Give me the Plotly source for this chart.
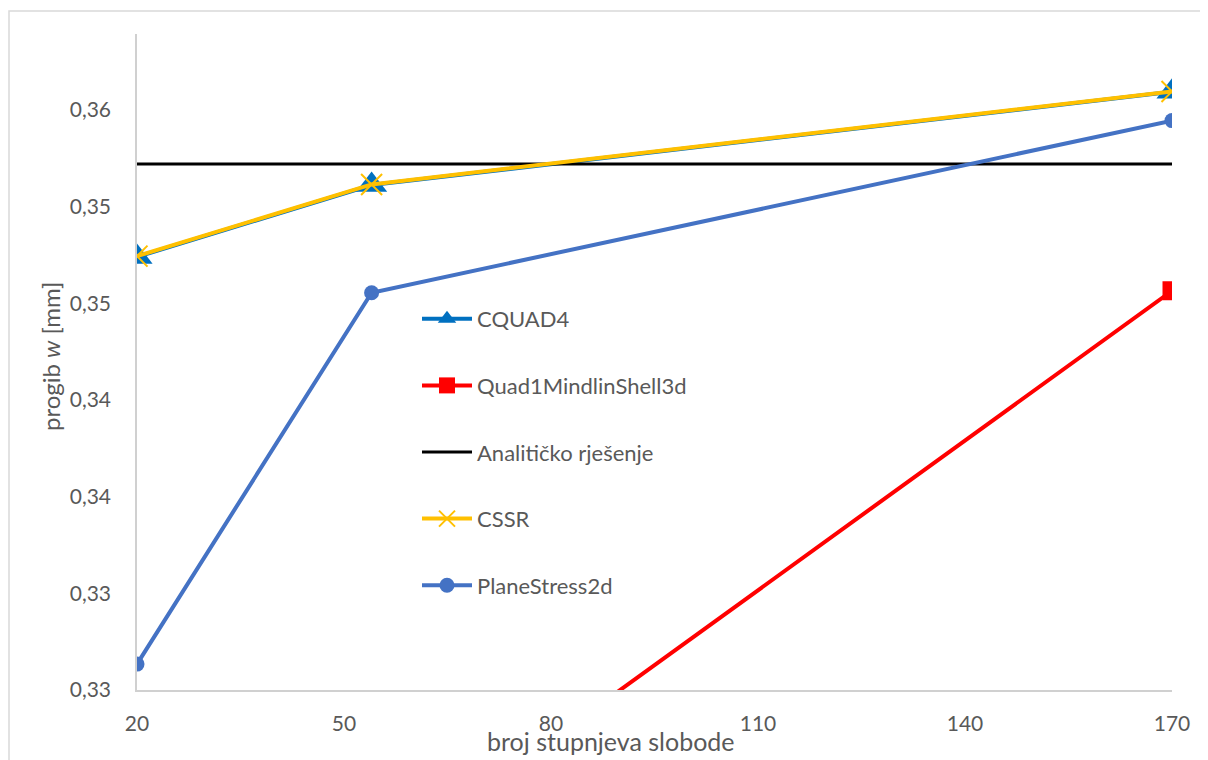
import plotly.graph_objects as go

# ---- data ----
dof = [20, 54, 170]
cquad4 = [0.35240, 0.35612, 0.36094]
quad1_mindlin = [0.3050, 0.3207, 0.35065]
analytic_x = [20, 170]
analytic = [0.35721, 0.35721]
cssr = [0.35244, 0.35615, 0.36096]
plane_stress = [0.33134, 0.35055, 0.35945]

y_tickvals = [0.330, 0.335, 0.340, 0.345, 0.350, 0.355, 0.360]
y_ticktext = ["0,33", "0,33", "0,34", "0,34", "0,35", "0,35", "0,36"]
x_tickvals = [20, 50, 80, 110, 140, 170]

FONT = "Lato"
TXT = "#595959"

fig = go.Figure()
fig.add_trace(go.Scatter(x=dof, y=cquad4, name="CQUAD4", mode="lines+markers",
                         line=dict(color="#0070C0", width=4),
                         marker=dict(symbol="triangle-up", size=27, color="#0070C0"),
                         legendgroup="a"))
fig.add_trace(go.Scatter(x=dof, y=quad1_mindlin, name="Quad1MindlinShell3d", mode="lines+markers",
                         line=dict(color="#FF0000", width=4),
                         marker=dict(symbol="square", size=19, color="#FF0000"),
                         legendgroup="b"))
fig.add_trace(go.Scatter(x=analytic_x, y=analytic, name="Analitičko rješenje", mode="lines",
                         line=dict(color="#000000", width=3),
                         legendgroup="c"))
fig.add_trace(go.Scatter(x=dof, y=cssr, name="CSSR", mode="lines+markers",
                         line=dict(color="#FFC000", width=4),
                         marker=dict(symbol="x-thin", size=21, color="#FFC000",
                                     line=dict(color="#FFC000", width=2)),
                         legendgroup="d"))
fig.add_trace(go.Scatter(x=dof, y=plane_stress, name="PlaneStress2d", mode="lines+markers",
                         line=dict(color="#4472C4", width=4),
                         marker=dict(symbol="circle", size=15, color="#4472C4"),
                         legendgroup="e"))

OFF = 8  # page body margin
W, H = 1200, 752
L, R, T, B = 137 - OFF, 1208 - 1172, 34 - OFF, 760 - 690
pw, ph = W - L - R, H - T - B

def px(x):
    return (x - OFF - L) / pw

def py(y):
    return (H - B - (y - OFF)) / ph

fig.update_layout(
    width=W, height=H,
    margin=dict(l=L, r=R, t=T, b=B),
    paper_bgcolor="white", plot_bgcolor="white",
    font=dict(family=FONT, size=21, color=TXT),
    showlegend=True,
    legend=dict(x=px(417), y=py(298), xanchor="left", yanchor="top",
                bgcolor="rgba(0,0,0,0)", tracegroupgap=35, traceorder="grouped",
                font=dict(family=FONT, size=22, color=TXT), itemwidth=50),
    xaxis=dict(range=[20, 170], tickvals=x_tickvals, showgrid=False, zeroline=False,
               showline=True, linecolor="#D0D0D0", linewidth=1.5,
               ticks="outside", ticklen=14, tickcolor="rgba(0,0,0,0)",
               tickfont=dict(family=FONT, size=21, color=TXT)),
    yaxis=dict(range=[0.330, 0.36393], tickvals=y_tickvals, ticktext=y_ticktext,
               showgrid=False, zeroline=False,
               showline=True, linecolor="#D0D0D0", linewidth=1.5,
               ticks="outside", ticklen=20, tickcolor="rgba(0,0,0,0)",
               tickfont=dict(family=FONT, size=21, color=TXT)),
    annotations=[
        dict(text="broj stupnjeva slobode", xref="paper", yref="paper",
             x=px(611), y=py(741), xanchor="center", yanchor="middle",
             showarrow=False, font=dict(family=FONT, size=25, color=TXT)),
        dict(text="progib <i>w</i> [mm]", xref="paper", yref="paper",
             x=px(50), y=py(357), xanchor="center", yanchor="middle", textangle=-90,
             showarrow=False, font=dict(family=FONT, size=24, color=TXT)),
    ],
    shapes=[
        dict(type="rect", xref="paper", yref="paper",
             x0=px(9), y0=py(775), x1=px(1220), y1=py(11),
             line=dict(color="#D9D9D9", width=1.5), fillcolor="rgba(0,0,0,0)", layer="below"),
    ],
)

fig.write_html("out.html")
